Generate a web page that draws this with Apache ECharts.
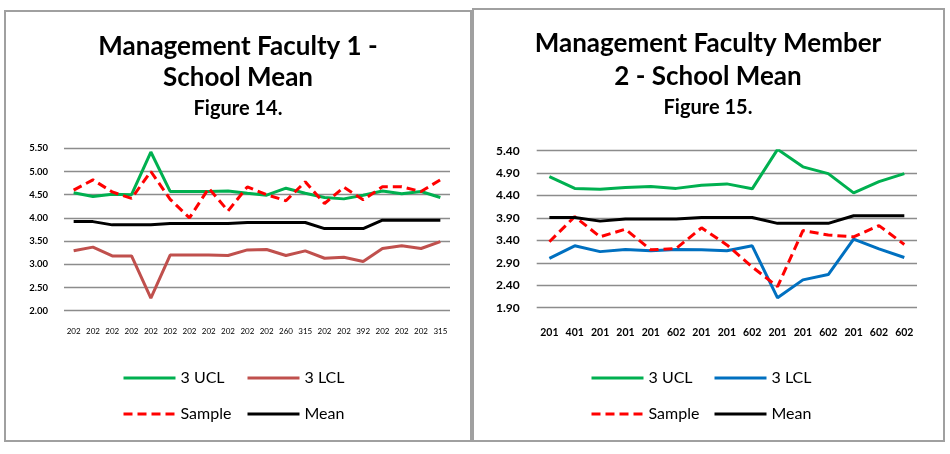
<!DOCTYPE html>
<html>
<head>
<meta charset="utf-8">
<script src="https://cdn.jsdelivr.net/npm/echarts@6/dist/echarts.min.js"></script>
<style>
  html, body { margin: 0; padding: 0; background: #fff; }
  #chart { width: 950px; height: 454px; }
</style>
</head>
<body>
<div id="chart"></div>
<script>
// Figure 14 - Management Faculty 1
const catsA = ['202', '202', '202', '202', '202', '202', '202', '202', '202', '202',
  '202', '260', '315', '202', '202', '392', '202', '202', '202', '315']
const uclA = [4.54, 4.46, 4.51, 4.50, 5.42, 4.57, 4.57, 4.57, 4.58, 4.53,
  4.49, 4.64, 4.53, 4.44, 4.41, 4.49, 4.58, 4.52, 4.57, 4.44]
const lclA = [3.29, 3.37, 3.18, 3.18, 2.27, 3.20, 3.20, 3.20, 3.19, 3.31,
  3.32, 3.19, 3.29, 3.13, 3.15, 3.06, 3.34, 3.40, 3.34, 3.49]
const sampleA = [4.60, 4.82, 4.56, 4.42, 5.00, 4.40, 4.00, 4.64, 4.15, 4.67,
  4.50, 4.37, 4.78, 4.31, 4.66, 4.39, 4.67, 4.67, 4.57, 4.82]
const meanA = [3.92, 3.92, 3.85, 3.85, 3.85, 3.88, 3.88, 3.88, 3.88, 3.90,
  3.90, 3.90, 3.90, 3.77, 3.77, 3.77, 3.95, 3.95, 3.95, 3.95]
const ticksA = { min: 2, max: 5.5, step: 0.5 }

// Figure 15 - Management Faculty Member 2
const catsB = ['201', '401', '201', '201', '201', '602', '201', '201', '602', '201',
  '201', '602', '201', '602', '602']
const uclB = [4.82, 4.56, 4.54, 4.58, 4.60, 4.56, 4.63, 4.66, 4.55, 5.43,
  5.04, 4.89, 4.46, 4.71, 4.89]
const lclB = [3.00, 3.28, 3.15, 3.20, 3.17, 3.20, 3.19, 3.17, 3.28, 2.12,
  2.52, 2.64, 3.43, 3.21, 3.02]
const sampleB = [3.37, 3.93, 3.48, 3.65, 3.19, 3.22, 3.68, 3.30, 2.81, 2.37,
  3.62, 3.52, 3.48, 3.73, 3.31]
const meanB = [3.91, 3.91, 3.83, 3.88, 3.88, 3.88, 3.91, 3.91, 3.91, 3.78,
  3.78, 3.78, 3.95, 3.95, 3.95]
const ticksB = { min: 1.9, max: 5.4, step: 0.5 }

const FONT = 'Lato, "Open Sans", sans-serif'
const GREEN = '#00B050'
const BROWN = '#C0504D'
const BLUE = '#0070C0'
const RED = '#FF0000'

const chart = echarts.init(document.getElementById('chart'), null, { renderer: 'canvas' })

function lineSeries(name, idx, data, color, dashed) {
  return {
    name: name,
    type: 'line',
    xAxisIndex: idx,
    yAxisIndex: idx,
    data: data,
    symbol: 'none',
    lineStyle: { color: color, width: 3, type: dashed ? [9, 5] : 'solid' },
    itemStyle: { color: color }
  }
}

// one legend per entry so the two columns line up like the original
function legendItem(name, left, top) {
  return {
    data: [name],
    left: left,
    top: top,
    padding: 0,
    itemWidth: 52,
    itemHeight: 14,
    itemGap: 0,
    selectedMode: false,
    itemStyle: { opacity: 0 },
    lineStyle: { width: 3 },
    formatter: n => n.split('|')[1],
    textStyle: { fontSize: 16, fontFamily: FONT, color: '#000' }
  }
}

function titles(lines, center, top, lh, fig, figTop) {
  return [
    {
      text: lines,
      left: center,
      top: top,
      textAlign: 'center',
      padding: 0,
      textStyle: { fontSize: 26, fontWeight: 'bold', fontFamily: FONT, color: '#000', lineHeight: lh }
    },
    {
      text: fig,
      left: center,
      top: figTop,
      textAlign: 'center',
      padding: 0,
      textStyle: { fontSize: 20, fontWeight: 'bold', fontFamily: FONT, color: '#000' }
    }
  ]
}

const splitStyle = { lineStyle: { color: '#8c8c8c', width: 1.3 } }

const option = {
  animation: false,
  backgroundColor: '#fff',
  title: [
    ...titles('Management Faculty 1 -\nSchool Mean', 238, 31, 31, 'Figure 14.', 99),
    ...titles('Management Faculty Member\n2 - School Mean', 708, 27, 33, 'Figure 15.', 98)
  ],
  graphic: [
    { type: 'rect', shape: { x: 5, y: 11, width: 466, height: 430 }, style: { fill: 'none', stroke: '#a0a0a0', lineWidth: 2 } },
    { type: 'rect', shape: { x: 473, y: 9, width: 471, height: 432 }, style: { fill: 'none', stroke: '#a0a0a0', lineWidth: 2 } }
  ],
  grid: [
    { left: 64, top: 148.3, width: 386, height: 162.4 },
    { left: 536.7, top: 150.7, width: 380.3, height: 157 }
  ],
  xAxis: [
    {
      type: 'category', gridIndex: 0, data: catsA, boundaryGap: true,
      axisLine: { show: false }, axisTick: { show: false },
      axisLabel: { interval: 0, fontSize: 8, fontFamily: FONT, color: '#000', margin: 17 }
    },
    {
      type: 'category', gridIndex: 1, data: catsB, boundaryGap: true,
      axisLine: { show: false }, axisTick: { show: false },
      axisLabel: { interval: 0, fontSize: 10.5, fontWeight: 'bold', fontFamily: FONT, color: '#000', margin: 19 }
    }
  ],
  yAxis: [
    {
      type: 'value', gridIndex: 0, min: ticksA.min, max: ticksA.max, interval: ticksA.step,
      axisLine: { show: false }, axisTick: { show: false }, splitLine: splitStyle,
      axisLabel: { formatter: v => v.toFixed(2), fontSize: 9.5, fontWeight: 'bold', fontFamily: FONT, color: '#000', margin: 16 }
    },
    {
      type: 'value', gridIndex: 1, min: ticksB.min, max: ticksB.max, interval: ticksB.step,
      axisLine: { show: false }, axisTick: { show: false }, splitLine: splitStyle,
      axisLabel: { formatter: v => v.toFixed(2), fontSize: 12, fontWeight: 'bold', fontFamily: FONT, color: '#000', margin: 17 }
    }
  ],
  legend: [
    legendItem('1|3 UCL', 122, 370),
    legendItem('1|3 LCL', 246, 370),
    legendItem('1|Sample', 122, 406),
    legendItem('1|Mean', 246, 406),
    legendItem('2|3 UCL', 590, 370),
    legendItem('2|3 LCL', 713, 370),
    legendItem('2|Sample', 590, 406),
    legendItem('2|Mean', 713, 406)
  ],
  series: [
    lineSeries('1|3 UCL', 0, uclA, GREEN),
    lineSeries('1|3 LCL', 0, lclA, BROWN),
    lineSeries('1|Sample', 0, sampleA, RED, true),
    lineSeries('1|Mean', 0, meanA, '#000'),
    lineSeries('2|3 UCL', 1, uclB, GREEN),
    lineSeries('2|3 LCL', 1, lclB, BLUE),
    lineSeries('2|Sample', 1, sampleB, RED, true),
    lineSeries('2|Mean', 1, meanB, '#000')
  ]
}

chart.setOption(option)
window.addEventListener('resize', () => chart.resize())
</script>
</body>
</html>
